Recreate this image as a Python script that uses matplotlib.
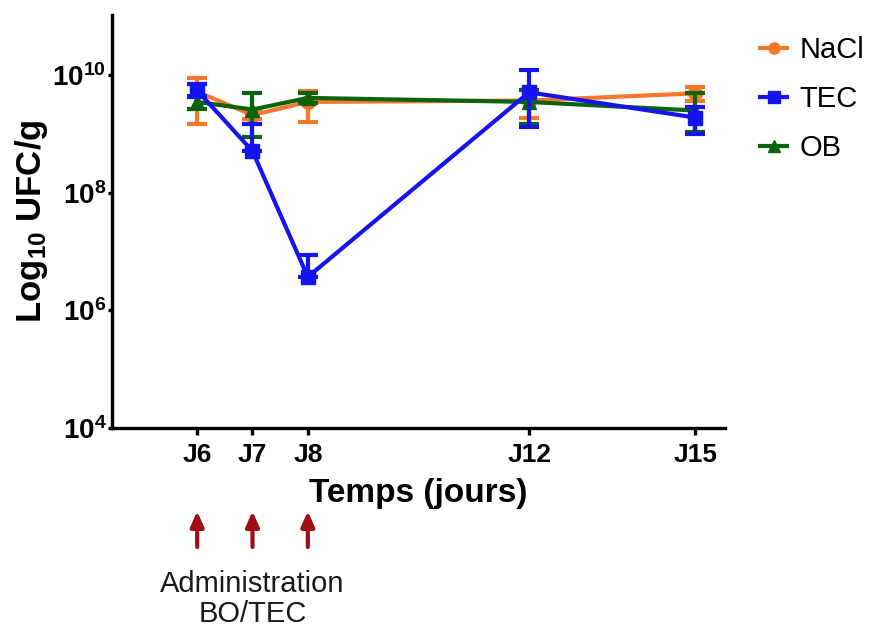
import matplotlib.pyplot as plt
import numpy as np

plt.rcParams['font.family'] = ['Liberation Sans', 'DejaVu Sans']
plt.rcParams['mathtext.fontset'] = 'custom'
plt.rcParams['mathtext.rm'] = 'Liberation Sans:bold'
plt.rcParams['mathtext.bf'] = 'Liberation Sans:bold'
plt.rcParams['mathtext.it'] = 'Liberation Sans:bold'

# days of sampling
days = [6, 7, 8, 12, 15]
day_labels = ['J6', 'J7', 'J8', 'J12', 'J15']
admin_days = [6, 7, 8]

# UFC/g: mean, lower and upper end of the error bar
nacl_mean = [5.2e9, 2.1e9, 3.5e9, 3.7e9, 4.9e9]
nacl_low = [1.5e9, 1.8e9, 1.6e9, 1.9e9, 3.6e9]
nacl_high = [9.0e9, 2.5e9, 5.4e9, 5.5e9, 6.3e9]

tec_mean = [5.5e9, 5.1e8, 3.7e6, 5.1e9, 1.9e9]
tec_low = [4.2e9, 5.1e8, 3.7e6, 1.3e9, 1.0e9]
tec_high = [7.0e9, 1.5e9, 8.9e6, 1.2e10, 2.9e9]

ob_mean = [3.5e9, 2.6e9, 4.1e9, 3.5e9, 2.5e9]
ob_low = [2.7e9, 9.0e8, 3.3e9, 1.5e9, 1.1e9]
ob_high = [4.5e9, 4.9e9, 5.0e9, 5.5e9, 4.9e9]

series = [
    ('NaCl', nacl_mean, nacl_low, nacl_high, '#F9772A', 'o', 2),
    ('OB', ob_mean, ob_low, ob_high, '#0B640B', '^', 3),
    ('TEC', tec_mean, tec_low, tec_high, '#1414EE', 's', 4),
]

fig = plt.figure(figsize=(8.7, 6.28), dpi=100)
ax = fig.add_axes([0.1287, 0.3185, 0.7046, 0.6575])

handles = {}
for name, mean, low, high, color, marker, z in series:
    mean = np.array(mean)
    yerr = [mean - np.array(low), np.array(high) - mean]
    eb = ax.errorbar(days, mean, yerr=yerr, color=color, marker=marker,
                     markersize=10, linewidth=3, elinewidth=3, capsize=7,
                     capthick=3, zorder=z)
    for part in eb.lines[1] + eb.lines[2]:
        part.set_zorder(z)
    handles[name] = eb[0]

ax.set_yscale('log')
ax.set_ylim(1e4, 1.05e11)
ax.set_yticks([1e4, 1e6, 1e8, 1e10])
ax.set_yticklabels([r'$10^{4}$', r'$10^{6}$', r'$10^{8}$', r'$10^{10}$'])
ax.minorticks_off()
ax.set_xlim(4.46, 15.54)
ax.set_xticks(days)
ax.set_xticklabels(day_labels, fontsize=19, fontweight='bold')

for s in ['top', 'right']:
    ax.spines[s].set_visible(False)
for s in ['left', 'bottom']:
    ax.spines[s].set_linewidth(2.4)
ax.tick_params(axis='x', length=5, width=2.4, pad=6)
ax.tick_params(axis='y', length=3, width=2.4, pad=1, labelsize=20)

ax.set_ylabel(r'Log$_{10}$ UFC/g', fontsize=25, fontweight='bold', labelpad=2)
ax.set_xlabel('Temps (jours)', fontsize=24, fontweight='bold', labelpad=8)

leg = ax.legend([handles['NaCl'], handles['TEC'], handles['OB']],
                ['NaCl', 'TEC', 'OB'], loc='upper left',
                bbox_to_anchor=(1.015, 1.013), frameon=False, fontsize=21,
                handlelength=0.9, handletextpad=0.45, labelspacing=0.72,
                markerscale=0.8)

# administration arrows under the axis
trans = ax.get_xaxis_transform()
for d in admin_days:
    ax.annotate('', xy=(d, -0.195), xytext=(d, -0.295), xycoords=trans,
                textcoords=trans, annotation_clip=False,
                arrowprops=dict(arrowstyle='-|>,head_width=0.4,head_length=0.9',
                                color='#9E0E14', linewidth=3))
ax.text(7, -0.415, 'Administration\nBO/TEC', transform=trans, ha='center',
        va='center', fontsize=21, linespacing=1.1, color='#1a1a1a')

fig.savefig('out.png', dpi=100)
